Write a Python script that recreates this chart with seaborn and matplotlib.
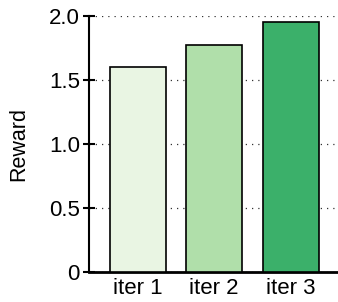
import matplotlib
matplotlib.use("Agg")
import matplotlib.pyplot as plt
import seaborn as sns
import pandas as pd

# Données
iterations = ["iter 1", "iter 2", "iter 3"]
rewards = [1.60, 1.77, 1.95]
bar_colors = ["#e9f5e3", "#b0dfaa", "#3bb06a"]
y_ticks = [0, 0.5, 1.0, 1.5, 2.0]
y_tick_labels = ["0", "0.5", "1.0", "1.5", "2.0"]

df = pd.DataFrame({"iteration": iterations, "reward": rewards})

sns.set_style("white")
plt.rcParams["font.family"] = ["Liberation Sans", "DejaVu Sans"]
plt.rcParams["text.color"] = "black"
plt.rcParams["axes.labelcolor"] = "black"
plt.rcParams["xtick.color"] = "black"
plt.rcParams["ytick.color"] = "black"

fig = plt.figure(figsize=(3.38, 3.02), dpi=100)
ax = fig.add_axes([0.263, 0.099, 0.737, 0.849])

sns.barplot(data=df, x="iteration", y="reward", hue="iteration",
            palette=bar_colors, legend=False, width=0.73,
            edgecolor="black", linewidth=1.2, saturation=1, ax=ax, zorder=3)

ax.set_ylim(0, 2.0)
ax.set_xlim(-0.64, 2.62)
ax.set_yticks(y_ticks)
ax.set_yticklabels(y_tick_labels)
ax.yaxis.grid(True, linestyle=(0, (1, 4)), color="#333333", linewidth=0.9, zorder=0)
ax.set_axisbelow(True)

ax.set_xlabel("")
ax.set_ylabel("Reward", fontsize=15.5, labelpad=14)
ax.tick_params(axis="y", direction="inout", length=9, width=1.5, labelsize=16, pad=2, left=True)
ax.tick_params(axis="x", length=0, labelsize=16, pad=4)

for side in ["top", "right"]:
    ax.spines[side].set_visible(False)
ax.spines["left"].set_linewidth(1.5)
ax.spines["bottom"].set_linewidth(2)
ax.spines["left"].set_color("black")
ax.spines["bottom"].set_color("black")

plt.savefig("out.png", dpi=100)
